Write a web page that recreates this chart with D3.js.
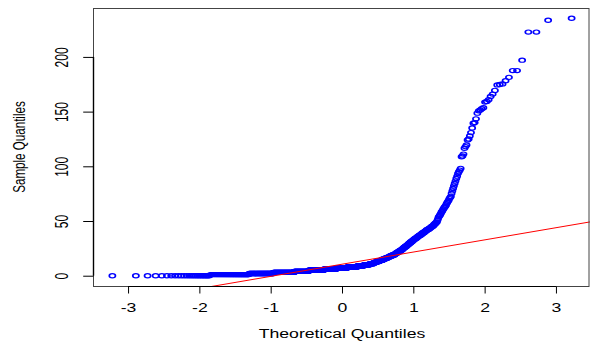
<!DOCTYPE html>
<html>
<head>
<meta charset="utf-8">
<script src="https://cdn.jsdelivr.net/npm/d3@7"></script>
<style>
    body { margin: 0; background: #fff; }
    text { font-family: "Liberation Sans", Arial, sans-serif; fill: #000; }
</style>
</head>
<body>
<div id="chart"></div>
<script>
// Sample values: the dense lower part as value / count pairs
var bulkValues = [0, 1, 2, 3, 4, 5, 6, 7, 8, 9, 10, 11, 12, 13, 14, 15, 16, 17, 18, 19,
    20, 21, 22, 23, 24, 25, 26, 27, 28, 29, 30, 31, 32, 33, 34, 35, 36, 37, 38, 39,
    40, 41, 42, 43, 44, 45, 46, 47, 48, 49];
var bulkCounts = [25, 50, 56, 65, 54, 61, 53, 49, 43, 29, 23, 15, 11, 12, 11, 9, 9, 9, 8, 8,
    6, 5, 6, 5, 4, 4, 4, 4, 4, 3, 4, 4, 3, 4, 4, 3, 4, 4, 3, 4,
    3, 3, 4, 3, 3, 3, 2, 2, 2, 2];
// ...and the sparse upper tail one by one
var tailValues = [50.6, 52, 53.6, 54.3, 55, 56, 57, 58.2, 59, 60, 61, 62, 62.8, 63.5, 64.5,
    65.9, 67, 68, 69, 70.5, 71.5, 72.5, 75.1, 77.5, 79.7, 82, 84.3, 86.5, 88.9, 91,
    93.5, 95, 96.5, 98.1, 108.7, 109.5, 111.2, 116.5, 118, 119.5, 124.1, 125, 127.8,
    130.8, 135, 139.4, 140, 143.4, 148.6, 150.7, 151.5, 152.6, 153.5, 158.7, 159.3,
    160.8, 163.9, 166, 169.4, 174.4, 174.8, 175.3, 178.3, 181.3, 187.5, 187.5, 197,
    222.7, 222.7, 233.5, 235.3];

var xTicks = [-3, -2, -1, 0, 1, 2, 3];
var yTicks = [0, 50, 100, 150, 200];

var width = 590, height = 344;
var plot = {left: 94, right: 590, top: 8, bottom: 286};
var stretch = 1.47; // the original picture is stretched sideways

// inverse normal cdf (Acklam)
function qnorm(p) {
    var a = [-3.969683028665376e+01, 2.209460984245205e+02, -2.759285104469687e+02, 1.383577518672690e+02, -3.066479806614716e+01, 2.506628277459239e+00];
    var b = [-5.447609879822406e+01, 1.615858368580409e+02, -1.556989798598866e+02, 6.680131188771972e+01, -1.328068155288572e+01];
    var c = [-7.784894002430293e-03, -3.223964580411365e-01, -2.400758277161838e+00, -2.549732539343734e+00, 4.374664141464968e+00, 2.938163982698783e+00];
    var d = [7.784695709041462e-03, 3.224671290700398e-01, 2.445134137142996e+00, 3.754408661907416e+00];
    var pLow = 0.02425, q, r;
    if (p < pLow) {
        q = Math.sqrt(-2 * Math.log(p));
        return (((((c[0] * q + c[1]) * q + c[2]) * q + c[3]) * q + c[4]) * q + c[5]) /
            ((((d[0] * q + d[1]) * q + d[2]) * q + d[3]) * q + 1);
    }
    if (p <= 1 - pLow) {
        q = p - 0.5;
        r = q * q;
        return (((((a[0] * r + a[1]) * r + a[2]) * r + a[3]) * r + a[4]) * r + a[5]) * q /
            (((((b[0] * r + b[1]) * r + b[2]) * r + b[3]) * r + b[4]) * r + 1);
    }
    q = Math.sqrt(-2 * Math.log(1 - p));
    return -(((((c[0] * q + c[1]) * q + c[2]) * q + c[3]) * q + c[4]) * q + c[5]) /
        ((((d[0] * q + d[1]) * q + d[2]) * q + d[3]) * q + 1);
}

// build sorted sample
var sample = [];
bulkValues.forEach(function (v, i) {
    for (var k = 0; k < bulkCounts[i]; k++) sample.push(v);
});
sample = sample.concat(tailValues).sort(d3.ascending);
var n = sample.length;

// theoretical quantiles, like R's ppoints()
var points = sample.map(function (v, i) {
    return {q: qnorm((i + 1 - 0.5) / n), v: v};
});

// R style 4% padding of the ranges
function padded(ext) {
    var pad = (ext[1] - ext[0]) * 0.04;
    return [ext[0] - pad, ext[1] + pad];
}
var x = d3.scaleLinear()
    .domain(padded(d3.extent(points, function (d) { return d.q; })))
    .range([plot.left, plot.right]);
var y = d3.scaleLinear()
    .domain(padded(d3.extent(sample)))
    .range([plot.bottom, plot.top]);

// qqline through the quartiles
var qy = [d3.quantile(sample, 0.25), d3.quantile(sample, 0.75)];
var qx = [qnorm(0.25), qnorm(0.75)];
var slope = (qy[1] - qy[0]) / (qx[1] - qx[0]);
var intercept = qy[0] - slope * qx[0];

var svg = d3.select("#chart").append("svg")
    .attr("width", width)
    .attr("height", height);

svg.append("rect")
    .attr("width", width)
    .attr("height", height)
    .attr("fill", "#fff");

svg.append("clipPath")
    .attr("id", "plot-clip")
    .append("rect")
    .attr("x", plot.left)
    .attr("y", plot.top)
    .attr("width", plot.right - plot.left)
    .attr("height", plot.bottom - plot.top);

// points
svg.append("g")
    .attr("clip-path", "url(#plot-clip)")
    .selectAll("circle")
    .data(points)
    .enter().append("circle")
    .attr("transform", function (d) {
        return "translate(" + x(d.q) + "," + y(d.v) + ") scale(" + stretch + ",1)";
    })
    .attr("r", 2.1)
    .attr("fill", "none")
    .attr("stroke", "#0000ff")
    .attr("stroke-width", 1.15);

// reference line
var xd = x.domain();
svg.append("line")
    .attr("clip-path", "url(#plot-clip)")
    .attr("x1", x(xd[0]))
    .attr("y1", y(intercept + slope * xd[0]))
    .attr("x2", x(xd[1]))
    .attr("y2", y(intercept + slope * xd[1]))
    .attr("stroke", "#ff0000")
    .attr("stroke-width", 1);

// box
svg.append("rect")
    .attr("x", plot.left - 0.5)
    .attr("y", plot.top + 0.5)
    .attr("width", plot.right - plot.left - 0.5)
    .attr("height", plot.bottom - plot.top)
    .attr("fill", "none")
    .attr("stroke", "#444")
    .attr("stroke-width", 1);

// x axis
var xAxis = svg.append("g")
    .attr("transform", "translate(0," + (plot.bottom + 0.5) + ")")
    .call(d3.axisBottom(x).tickValues(xTicks).tickSize(7).tickSizeOuter(0).tickFormat(d3.format("d")));
xAxis.select(".domain").remove();
xAxis.append("line")
    .attr("x1", x(xTicks[0]))
    .attr("x2", x(xTicks[xTicks.length - 1]))
    .attr("stroke", "#000");
xAxis.selectAll(".tick line").attr("stroke", "#000");
xAxis.selectAll(".tick text")
    .attr("y", null)
    .attr("dy", null)
    .attr("transform", "translate(0,25.5) scale(" + stretch + ",1)")
    .attr("font-size", 12)
    .text(function (d) { return d < 0 ? "-" + Math.abs(d) : d; });

// y axis
var yAxis = svg.append("g")
    .attr("transform", "translate(" + (plot.left - 0.5) + ",0)")
    .call(d3.axisLeft(y).tickValues(yTicks).tickSize(7 * stretch).tickSizeOuter(0));
yAxis.select(".domain").remove();
yAxis.append("line")
    .attr("y1", y(yTicks[0]))
    .attr("y2", y(yTicks[yTicks.length - 1]))
    .attr("stroke", "#000")
    .attr("stroke-width", 1.4);
yAxis.selectAll(".tick line").attr("stroke", "#000");
yAxis.selectAll(".tick text")
    .attr("x", null)
    .attr("dy", null)
    .attr("text-anchor", "middle")
    .attr("transform", "translate(-26,0) scale(" + stretch + ",1) rotate(-90)")
    .attr("font-size", 12);

// titles
svg.append("text")
    .attr("text-anchor", "middle")
    .attr("font-size", 12)
    .attr("transform", "translate(" + ((plot.left + plot.right) / 2) + ",338) scale(" + stretch + ",1)")
    .text("Theoretical Quantiles");

svg.append("text")
    .attr("text-anchor", "middle")
    .attr("font-size", 11.6)
    .attr("transform", "translate(25," + ((plot.top + plot.bottom) / 2) + ") scale(" + stretch + ",1) rotate(-90)")
    .text("Sample Quantiles");
</script>
</body>
</html>
